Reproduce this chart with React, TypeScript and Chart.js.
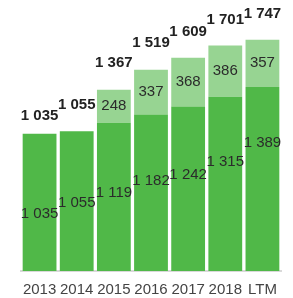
import React, { useEffect, useRef } from "react";
import { Chart, registerables } from "chart.js";

Chart.register(...registerables);

const categories = ["2013", "2014", "2015", "2016", "2017", "2018", "LTM"];
const baseValues = [1035, 1055, 1119, 1182, 1242, 1315, 1389];
const addValues = [null, null, 248, 337, 368, 386, 357];
const totals = [1035, 1055, 1367, 1519, 1609, 1701, 1747];

const DARK = "#50b848";
const LIGHT = "#97d492";
const FONT = "Arial, 'Liberation Sans', sans-serif";

const fmt = (v: number) => String(v).replace(/\B(?=(\d{3})+(?!\d))/g, " ");

const labelPlugin = {
  id: "barLabels",
  afterDatasetsDraw(chart: any, _args: any, opts: any) {
    const ctx = chart.ctx;
    const yScale = chart.scales.y;
    const innerShift: number[] = opts.innerShift || [];
    const totalGap: number[] = opts.totalGap || [];
    ctx.save();
    ctx.textAlign = "center";
    ctx.textBaseline = "middle";
    chart.data.datasets.forEach((ds: any, di: number) => {
      const meta = chart.getDatasetMeta(di);
      meta.data.forEach((bar: any, i: number) => {
        const v = ds.data[i];
        if (v == null) return;
        const mid = (bar.y + bar.base) / 2 + (di === 0 ? innerShift[i] || 0 : 0);
        ctx.fillStyle = "#2b2b2b";
        ctx.font = `15px ${FONT}`;
        ctx.fillText(fmt(v), bar.x, mid);
      });
    });
    const meta0 = chart.getDatasetMeta(0);
    totals.forEach((t, i) => {
      const x = meta0.data[i].x;
      const y = yScale.getPixelForValue(t) - (totalGap[i] ?? 26);
      ctx.fillStyle = "#222";
      ctx.font = `bold 15px ${FONT}`;
      ctx.fillText(fmt(t), x, y);
    });
    ctx.restore();
  },
};

export default function App() {
  const ref = useRef<HTMLCanvasElement>(null);
  useEffect(() => {
    if (!ref.current) return;
    const chart = new Chart(ref.current, {
      type: "bar",
      data: {
        labels: categories,
        datasets: [
          { data: baseValues, backgroundColor: DARK, barPercentage: 0.91, categoryPercentage: 1 },
          { data: addValues as any, backgroundColor: LIGHT, barPercentage: 0.91, categoryPercentage: 1 },
        ],
      },
      options: {
        animation: false,
        responsive: false,
        maintainAspectRatio: false,
        layout: { padding: { left: 21, right: 12, top: 6, bottom: 0 } },
        plugins: {
          legend: { display: false },
          tooltip: { enabled: false },
          barLabels: {
            innerShift: [11.5, 2, -4, -12, -14, -22, -36],
            totalGap: [18, 26, 27, 27, 26, 26, 26],
          },
        } as any,
        scales: {
          x: {
            stacked: true,
            grid: { display: false, drawTicks: false },
            border: { display: true, color: "#d9d9d9", width: 2 },
            ticks: { color: "#444", font: { family: FONT, size: 15 }, padding: 10, maxRotation: 0, autoSkip: false },
            afterFit: (s: any) => { s.height = 27; },
          },
          y: {
            stacked: true,
            display: false,
            min: 0,
            max: 2000,
          },
        },
      },
      plugins: [labelPlugin],
    });
    return () => chart.destroy();
  }, []);
  return (
    <div style={{ position: "fixed", left: 0, top: 0, width: 293, height: 298, background: "#fff" }}>
      <canvas ref={ref} width={293} height={298} style={{ width: 293, height: 298 }} />
    </div>
  );
}
